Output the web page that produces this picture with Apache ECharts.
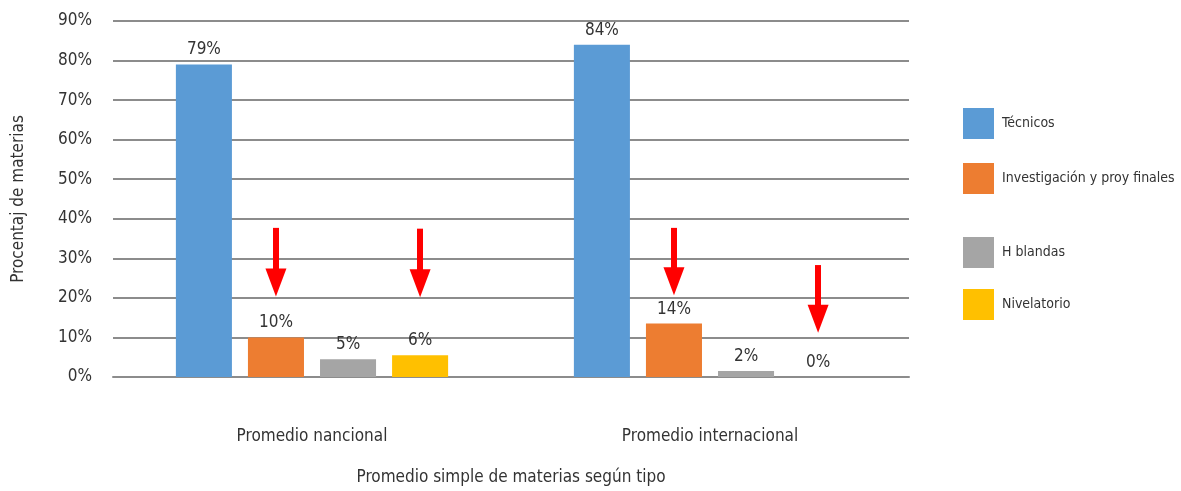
<!DOCTYPE html>
<html>
<head>
<meta charset="utf-8">
<script src="https://cdn.jsdelivr.net/npm/echarts@6/dist/echarts.min.js"></script>
<style>
html,body{margin:0;padding:0;background:#fff;}
#chart{width:1181px;height:491px;}
</style>
</head>
<body>
<div id="chart"></div>
<script>
// ---- data (percent) ----
var categories = ['Promedio nancional', 'Promedio internacional'];
var seriesNames = ['Técnicos', 'Investigación y proy finales', 'H blandas', 'Nivelatorio'];
var tecnicos = [79, 84];
var investigacion = [10, 13.5];
var hBlandas = [4.5, 1.5];
var nivelatorio = [5.5, 0];
var yTicks = [0, 10, 20, 30, 40, 50, 60, 70, 80, 90];
// arrows: [series index, category index, start value, end value]
var arrows = [
  [1, 0, 37.7, 23.9],
  [3, 0, 37.5, 23.7],
  [1, 1, 37.7, 24.2],
  [3, 1, 28.3, 14.7]
];

var colors = ['#5B9BD5', '#ED7D31', '#A5A5A5', '#FFC000'];
var FONT = '"Liberation Sans Narrow", "DejaVu Sans Condensed", "Roboto", sans-serif';
var values = [tecnicos, investigacion, hBlandas, nivelatorio];
var legendTops = [108, 163, 237, 289];

var series = seriesNames.map(function (name, si) {
  var marks = arrows.filter(function (a) { return a[0] === si; }).map(function (a) {
    return [
      { coord: [categories[a[1]], a[2]], symbol: 'none' },
      { coord: [categories[a[1]], a[3]], symbol: 'triangle' }
    ];
  });
  var s = {
    name: name,
    type: 'bar',
    data: values[si],
    itemStyle: { color: colors[si] },
    barGap: '28.6%',
    barCategoryGap: '31.6%',
    label: {
      show: true,
      position: 'top',
      distance: 6,
      fontFamily: FONT,
      fontSize: 17,
      color: '#333',
      formatter: function (p) { return Math.round(p.value) + '%'; }
    },
    emphasis: { disabled: true }
  };
  if (marks.length) {
    s.markLine = {
      silent: true,
      animation: false,
      symbolSize: [21, 28],
      label: { show: false },
      lineStyle: { color: '#FF0000', width: 6, type: 'solid' },
      itemStyle: { color: '#FF0000' },
      emphasis: { disabled: true },
      data: marks
    };
  }
  return s;
});

var legends = seriesNames.map(function (name, i) {
  return {
    data: [name],
    left: 963,
    top: legendTops[i],
    padding: 0,
    orient: 'vertical',
    icon: 'rect',
    itemWidth: 31,
    itemHeight: 31,
    selectedMode: false,
    textStyle: { fontFamily: FONT, fontSize: 14, color: '#333', padding: [0, 0, 0, 3] }
  };
});

var chart = echarts.init(document.getElementById('chart'));
chart.setOption({
  animation: false,
  backgroundColor: '#fff',
  grid: { left: 113, right: 272, top: 21, bottom: 104, containLabel: false },
  legend: legends,
  xAxis: {
    type: 'category',
    data: categories,
    name: 'Promedio simple de materias según tipo',
    nameLocation: 'middle',
    nameGap: 92,
    nameTextStyle: { fontFamily: FONT, fontSize: 17, color: '#333' },
    axisLine: { lineStyle: { color: '#8c8c8c', width: 2 } },
    axisTick: { show: false },
    axisLabel: { margin: 51, fontFamily: FONT, fontSize: 17, color: '#333' }
  },
  yAxis: {
    type: 'value',
    min: yTicks[0],
    max: yTicks[yTicks.length - 1],
    interval: yTicks[1] - yTicks[0],
    name: 'Procentaj de materias',
    nameLocation: 'middle',
    nameGap: 86,
    nameTextStyle: { fontFamily: FONT, fontSize: 17, color: '#333' },
    axisLine: { show: false },
    axisTick: { show: false },
    axisLabel: { margin: 21, fontFamily: FONT, fontSize: 17, color: '#333', formatter: '{value}%' },
    splitLine: { lineStyle: { color: '#8c8c8c', width: 2 } }
  },
  series: series
});
</script>
</body>
</html>
